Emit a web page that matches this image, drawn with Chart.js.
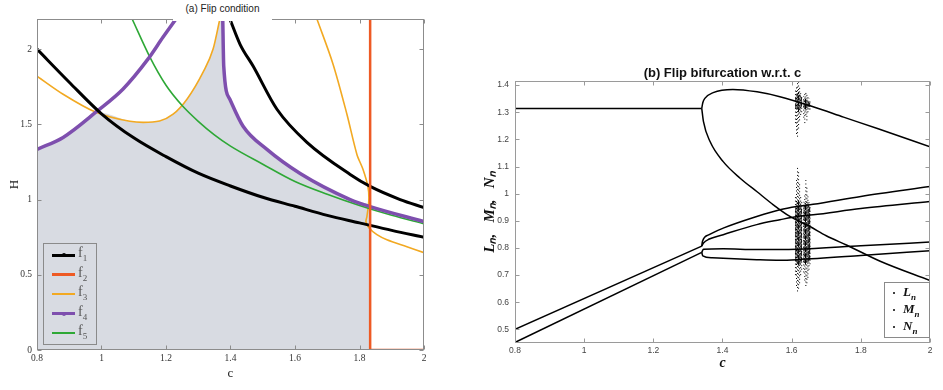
<!DOCTYPE html>
<html>
<head>
<meta charset="UTF-8">
<title>Flip condition / flip bifurcation</title>
<script src="https://cdn.jsdelivr.net/npm/chart.js@4.4.1/dist/chart.umd.min.js"></script>
<style>
  body { margin: 0; background: #fff; }
  #wrap { position: relative; width: 943px; height: 390px; overflow: hidden; }
  .pane { position: absolute; top: 0; height: 390px; }
  #titleA { position: absolute; left: 173px; top: 3px; width: 99px; height: 18px; line-height: 18px;
            background: #fff; text-align: center; font: 10px "Liberation Sans", Arial, sans-serif; color: #222; }
  #titleB { position: absolute; left: 515px; top: 65px; width: 415px; text-align: center;
            font: bold 13px "Liberation Sans", Arial, sans-serif; color: #111; }
  #legendA { position: absolute; left: 43px; top: 243px; width: 52px; height: 100px; border: 1px solid #8a8a8a; }
  #legendB { position: absolute; left: 884px; top: 282px; width: 44px; height: 54px; border: 1px solid #8a8a8a; background: #fff; }
  .row { position: absolute; left: 0; width: 100%; }
  .sample { position: absolute; left: 8px; width: 23px; }
  .dot { position: absolute; border-radius: 50%; }
  .lab { position: absolute; font-family: "Liberation Serif", "Times New Roman", serif; }
</style>
</head>
<body>
<div id="wrap">
  <div class="pane" style="left:0;width:440px"><canvas id="chartA"></canvas></div>
  <div class="pane" style="left:470px;width:473px"><canvas id="chartB"></canvas></div>
  <div id="titleA">(a) Flip condition</div>
  <div id="titleB">(b) Flip bifurcation w.r.t. c</div>
  <div id="legendA"></div>
  <div id="legendB"></div>
</div>

<script>
// ---------- (a) flip condition: H against c ----------
const cTicksA = [0.8, 1, 1.2, 1.4, 1.6, 1.8, 2];
const hTicksA = [0, 0.5, 1, 1.5, 2];

const f1LowC = [0.8, 0.9, 1.0, 1.1, 1.2, 1.3, 1.4, 1.5, 1.6, 1.7, 1.8, 1.9, 2.0];
const f1LowH = [2.0, 1.78, 1.57, 1.41, 1.285, 1.175, 1.09, 1.015, 0.955, 0.895, 0.845, 0.795, 0.75];
const f1UpC = [1.398, 1.43, 1.47, 1.544, 1.637, 1.771, 1.833, 1.926, 2.0];
const f1UpH = [2.2, 2.03, 1.887, 1.60, 1.38, 1.167, 1.087, 1.0, 0.947];
const f2C = [1.833, 1.833, 2.0];
const f2H = [2.2, 0, 0];
const f3LeftC = [0.8, 0.881, 0.983, 1.088, 1.129, 1.18, 1.222, 1.265, 1.315, 1.346, 1.367];
const f3LeftH = [1.82, 1.70, 1.58, 1.52, 1.513, 1.522, 1.567, 1.667, 1.847, 2.0, 2.2];
const f3RightC = [1.668, 1.718, 1.761, 1.792, 1.811, 1.826, 1.829, 1.823, 1.820, 1.829, 1.854, 1.885, 1.947, 2.0];
const f3RightH = [2.2, 1.90, 1.567, 1.30, 1.20, 1.087, 1.0, 0.887, 0.853, 0.813, 0.767, 0.733, 0.687, 0.647];
const f4LeftC = [0.8, 0.881, 0.986, 1.067, 1.144, 1.191, 1.231];
const f4LeftH = [1.333, 1.413, 1.587, 1.735, 1.933, 2.08, 2.2];
const f4RightC = [1.376, 1.379, 1.398, 1.439, 1.513, 1.616, 1.771, 1.833, 2.0];
const f4RightH = [2.2, 1.887, 1.667, 1.487, 1.333, 1.173, 1.0, 0.953, 0.853];
const f5C = [1.095, 1.15, 1.2, 1.25, 1.3, 1.35, 1.4, 1.5, 1.6, 1.7, 1.8, 1.9, 2.0];
const f5H = [2.2, 1.947, 1.76, 1.625, 1.52, 1.43, 1.355, 1.235, 1.12, 1.035, 0.96, 0.895, 0.84];
const legendSubsA = ['1', '2', '3', '4', '5'];

// ---------- (b) bifurcation diagram ----------
const cTicksB = [0.8, 1, 1.2, 1.4, 1.6, 1.8, 2];
const vTicksB = [0.5, 0.6, 0.7, 0.8, 0.9, 1, 1.1, 1.2, 1.3, 1.4];

const lnFlatC = [0.8, 1.34];
const lnFlatV = [1.314, 1.314];
const lnUpC = [1.34, 1.343, 1.349, 1.373, 1.43, 1.5, 1.566, 1.662, 1.75, 1.85, 2.0];
const lnUpV = [1.314, 1.335, 1.351, 1.372, 1.384, 1.375, 1.357, 1.32, 1.282, 1.239, 1.173];
const lnLowC = [1.34, 1.345, 1.364, 1.402, 1.451, 1.499, 1.547, 1.595, 1.653, 1.70, 1.76, 1.856, 2.0];
const lnLowV = [1.314, 1.265, 1.192, 1.118, 1.057, 1.008, 0.959, 0.916, 0.879, 0.845, 0.81, 0.751, 0.68];

const mnPreC = [0.8, 1.34];
const mnPreV = [0.5, 0.807];
const mnUpC = [1.34, 1.342, 1.36, 1.402, 1.499, 1.566, 1.615, 1.662, 1.8, 2.0];
const mnUpV = [0.807, 0.824, 0.848, 0.873, 0.916, 0.941, 0.953, 0.961, 0.99, 1.026];
const mnLowC = [1.34, 1.345, 1.36, 1.402, 1.499, 1.566, 1.615, 1.662, 1.8, 2.0];
const mnLowV = [0.807, 0.818, 0.832, 0.849, 0.886, 0.904, 0.916, 0.922, 0.945, 0.971];

const nnPreC = [0.8, 1.34];
const nnPreV = [0.452, 0.784];
const nnUpC = [1.34, 1.345, 1.402, 1.499, 1.566, 1.615, 1.8, 2.0];
const nnUpV = [0.784, 0.795, 0.797, 0.794, 0.794, 0.795, 0.808, 0.822];
const nnLowC = [1.34, 1.343, 1.37, 1.402, 1.499, 1.566, 1.615, 1.8, 2.0];
const nnLowV = [0.784, 0.771, 0.764, 0.762, 0.757, 0.755, 0.757, 0.772, 0.79];

// scattered (chaotic) iterates around c = 1.61-1.65, as vertical runs
const chaosC  = [1.611, 1.614, 1.617, 1.620, 1.623, 1.626, 1.629, 1.635, 1.638, 1.641, 1.644, 1.647, 1.650, 1.653];
const chUpLo  = [1.26, 1.22, 1.21, 1.24, 1.27, 1.29, 1.30, 1.28, 1.26, 1.29, 1.27, 1.30, 1.31, 1.31];
const chUpHi  = [1.38, 1.40, 1.415, 1.41, 1.39, 1.37, 1.36, 1.36, 1.37, 1.38, 1.37, 1.36, 1.35, 1.34];
const chLowLo = [0.70, 0.66, 0.64, 0.65, 0.67, 0.70, 0.72, 0.71, 0.68, 0.66, 0.67, 0.69, 0.72, 0.74];
const chLowHi = [0.99, 1.05, 1.10, 1.08, 1.04, 0.99, 0.97, 0.97, 1.00, 1.05, 1.03, 0.99, 0.97, 0.96];
const denseC    = [1.612, 1.616, 1.620, 1.624, 1.628, 1.636, 1.640, 1.644, 1.648, 1.652];
const dnUpLo    = [1.315, 1.31, 1.30, 1.31, 1.32, 1.315, 1.31, 1.315, 1.32, 1.32];
const dnUpHi    = [1.36, 1.37, 1.375, 1.365, 1.355, 1.345, 1.35, 1.345, 1.34, 1.335];
const dnLowLo   = [0.75, 0.74, 0.735, 0.74, 0.75, 0.745, 0.74, 0.745, 0.75, 0.755];
const dnLowHi   = [0.95, 0.97, 0.975, 0.965, 0.95, 0.955, 0.965, 0.97, 0.96, 0.95];
const legendNamesB = ['L', 'M', 'N'];

// ---------- helpers ----------
const pts = (xs, ys) => xs.map((x, i) => ({ x: x, y: ys[i] }));
function runs(cs, lo, hi) {
  const out = [];
  cs.forEach((c, i) => { out.push({ x: c, y: lo[i] }, { x: c, y: hi[i] }, { x: c, y: null }); });
  return out;
}

// shaded region: under f4 (left), f3 (left), f4 (right), up to the f2 line
const shade = []
  .concat(pts(f4LeftC, f4LeftH).filter(p => p.x < 0.98))
  .concat(pts(f3LeftC, f3LeftH).filter(p => p.x >= 0.983))
  .concat(pts(f4RightC, f4RightH).filter(p => p.x <= f2C[0]))
  .concat([{ x: f2C[0], y: 0 }]);

const colA = { f1: '#000000', f2: '#EE5A24', f3: '#F2A922', f4: '#7E4FAE', f5: '#2EA836' };

// box frame with inward ticks on all four sides
const frame = {
  id: 'frame',
  afterDatasetsDraw(chart, args, opts) {
    const { ctx, chartArea: a, scales } = chart;
    const L = Math.round(a.left) + 0.5, R = Math.round(a.right) - 0.5;
    const T = Math.round(a.top) + 0.5, B = Math.round(a.bottom) - 0.5;
    ctx.save();
    ctx.strokeStyle = opts.color;
    ctx.lineWidth = 1;
    ctx.strokeRect(L, T, R - L, B - T);
    ctx.beginPath();
    scales.x.ticks.forEach(t => {
      const px = Math.round(scales.x.getPixelForValue(t.value)) + 0.5;
      ctx.moveTo(px, B); ctx.lineTo(px, B - opts.len);
      ctx.moveTo(px, T); ctx.lineTo(px, T + opts.len);
    });
    scales.y.ticks.forEach(t => {
      const py = Math.round(scales.y.getPixelForValue(t.value)) + 0.5;
      ctx.moveTo(L, py); ctx.lineTo(L + opts.len, py);
      ctx.moveTo(R, py); ctx.lineTo(R - opts.len, py);
    });
    ctx.stroke();
    ctx.restore();
  }
};

// smooth lines through monotone-x points; extra overrides per series
function lineSet(data, color, width, extra) {
  return Object.assign({ data: data, borderColor: color, borderWidth: width, pointRadius: 0,
    fill: false, cubicInterpolationMode: 'monotone', spanGaps: false }, extra || {});
}

function axis(ticks, min, max, font, color, pad, size, isX, title) {
  return {
    type: 'linear', min: min, max: max,
    grid: { display: false, drawTicks: false }, border: { display: false },
    afterBuildTicks: s => { s.ticks = ticks.map(v => ({ value: v })); },
    afterFit: s => { if (isX) s.height = size; else s.width = size; },
    ticks: { font: font, color: color, padding: pad, callback: v => String(v) },
    title: title
  };
}

// ---------- chart (a) ----------
const serifA = { family: '"Liberation Serif", "Times New Roman", serif', size: 9.5 };
new Chart(document.getElementById('chartA'), {
  type: 'line',
  data: {
    datasets: [
      lineSet(pts(f2C, f2H), colA.f2, 2.5, { cubicInterpolationMode: 'default', tension: 0 }),
      lineSet(pts(f1LowC, f1LowH), colA.f1, 3),
      lineSet(pts(f1UpC, f1UpH), colA.f1, 3),
      lineSet(pts(f4LeftC, f4LeftH), colA.f4, 3.5),
      lineSet(pts(f4RightC, f4RightH), colA.f4, 3.5),
      lineSet(pts(f5C, f5H), colA.f5, 1.6),
      lineSet(pts(f3LeftC, f3LeftH), colA.f3, 1.6),
      lineSet(pts(f3RightC, f3RightH), colA.f3, 1.6, { cubicInterpolationMode: 'default', tension: 0.3 }),
      lineSet(shade, 'rgba(0,0,0,0)', 0, { cubicInterpolationMode: 'default', tension: 0.2,
        fill: 'origin', backgroundColor: '#D8DBE2', order: 10 })
    ]
  },
  options: {
    responsive: true, maintainAspectRatio: false, animation: false,
    layout: { padding: { left: 0, top: 19, right: 16, bottom: 0 } },
    plugins: { legend: { display: false }, tooltip: { enabled: false },
               frame: { color: '#8c8c8c', len: 4 } },
    scales: {
      x: axis(cTicksA, 0.8, 2, serifA, '#333', 3, 40, true,
        { display: true, text: 'c', color: '#222', padding: { top: 0, bottom: 9 },
          font: { family: serifA.family, size: 13 } }),
      y: axis(hTicksA, 0, 2.2, serifA, '#333', 5, 37, false,
        { display: true, text: 'H', color: '#222', padding: { top: 7, bottom: 0 },
          font: { family: serifA.family, size: 13 } })
    }
  },
  plugins: [frame]
});

// ---------- chart (b) ----------
const sansB = { family: '"Liberation Sans", Arial, sans-serif', size: 8.5 };
const blk = '#000';
const straight = { cubicInterpolationMode: 'default', tension: 0 };
new Chart(document.getElementById('chartB'), {
  type: 'line',
  data: {
    datasets: [
      lineSet(pts(lnFlatC, lnFlatV), blk, 1.5, straight),
      lineSet(pts(lnUpC, lnUpV), blk, 1.5),
      lineSet(pts(lnLowC, lnLowV), blk, 1.5),
      lineSet(pts(mnPreC, mnPreV), blk, 1.5, straight),
      lineSet(pts(mnUpC, mnUpV), blk, 1.5),
      lineSet(pts(mnLowC, mnLowV), blk, 1.5),
      lineSet(pts(nnPreC, nnPreV), blk, 1.5, straight),
      lineSet(pts(nnUpC, nnUpV), blk, 1.5),
      lineSet(pts(nnLowC, nnLowV), blk, 1.5),
      lineSet(runs(chaosC, chUpLo, chUpHi), blk, 1, Object.assign({ borderDash: [1, 2.5] }, straight)),
      lineSet(runs(chaosC, chLowLo, chLowHi), blk, 1, Object.assign({ borderDash: [1, 2.5] }, straight)),
      lineSet(runs(denseC, dnUpLo, dnUpHi), blk, 1, Object.assign({ borderDash: [5, 1] }, straight)),
      lineSet(runs(denseC, dnLowLo, dnLowHi), blk, 1, Object.assign({ borderDash: [5, 1] }, straight))
    ]
  },
  options: {
    responsive: true, maintainAspectRatio: false, animation: false,
    layout: { padding: { left: 0, top: 81, right: 13, bottom: 0 } },
    plugins: { legend: { display: false }, tooltip: { enabled: false },
               frame: { color: '#9a9a9a', len: 4 } },
    scales: {
      x: axis(cTicksB, 0.8, 2, sansB, '#444', 3, 47, true,
        { display: true, text: 'c', color: '#111', padding: { top: 0, bottom: 18 },
          font: { family: '"Liberation Serif", serif', size: 14, style: 'italic', weight: 'bold' } }),
      y: axis(vTicksB, 0.45, 1.415, sansB, '#444', 6, 45, false,
        { display: true, text: 'Lₙ,   Mₙ,   Nₙ', color: '#111', padding: { top: 11, bottom: 0 },
          font: { family: '"Liberation Serif", serif', size: 15, style: 'italic', weight: 'bold' } })
    }
  },
  plugins: [frame]
});

// ---------- legends ----------
const legA = document.getElementById('legendA');
const legStyleA = [
  { color: colA.f1, w: 3, dot: 4 }, { color: colA.f2, w: 3, dot: 3 }, { color: colA.f3, w: 1.6, dot: 0 },
  { color: colA.f4, w: 3, dot: 4 }, { color: colA.f5, w: 1.6, dot: 0 }
];
legendSubsA.forEach((s, i) => {
  const st = legStyleA[i];
  const cy = 11 + i * 19.5;
  const row = document.createElement('div');
  row.className = 'row';
  row.style.top = cy + 'px';
  row.innerHTML =
    '<div class="sample" style="top:' + (-st.w / 2) + 'px;height:' + st.w + 'px;background:' + st.color + '"></div>' +
    (st.dot ? '<div class="dot" style="left:' + (19.5 - st.dot / 2) + 'px;top:' + (-st.dot / 2) + 'px;width:' + st.dot +
      'px;height:' + st.dot + 'px;background:' + st.color + '"></div>' : '') +
    '<div class="lab" style="left:34px;top:-10px;font-size:14px;color:#555;line-height:16px">f<sub style="font-size:9px">' + s + '</sub></div>';
  legA.appendChild(row);
});

const legB = document.getElementById('legendB');
legendNamesB.forEach((n, i) => {
  const cy = 10 + i * 17;
  const row = document.createElement('div');
  row.className = 'row';
  row.style.top = cy + 'px';
  row.innerHTML =
    '<div class="dot" style="left:8px;top:-1px;width:2px;height:2px;background:#000"></div>' +
    '<div class="lab" style="left:18px;top:-9px;font-size:13px;line-height:16px;font-style:italic;font-weight:bold;color:#111">' +
    n + '<sub style="font-size:9px">n</sub></div>';
  legB.appendChild(row);
});
</script>
</body>
</html>
